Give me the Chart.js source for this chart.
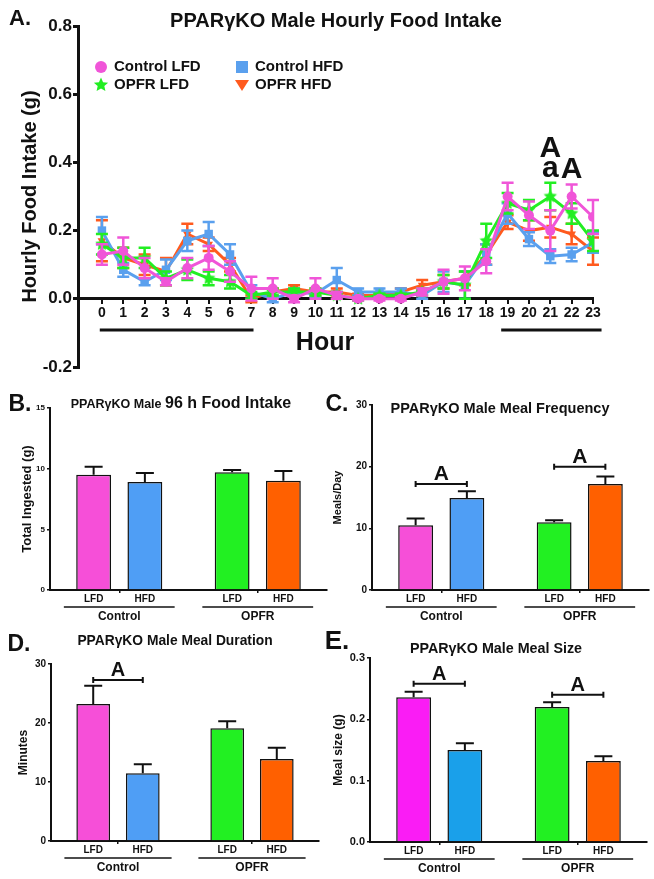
<!DOCTYPE html>
<html>
<head>
<meta charset="utf-8">
<script src="https://cdn.jsdelivr.net/npm/chart.js@4.4.1/dist/chart.umd.min.js"></script>
<style>
  body { margin: 0; background: #fff; width: 654px; height: 879px; overflow: hidden; position: relative;
         font-family: 'Liberation Sans', Arial, sans-serif; font-weight: bold; color: #111; }
  canvas { position: absolute; }
  .t { position: absolute; white-space: nowrap; line-height: 1; transform: translate(-50%, -50%); }
</style>
</head>
<body>
<canvas id="cA" style="left:0px;top:0px" width="654" height="380"></canvas>
<canvas id="cB" style="left:0px;top:380px" width="330" height="245"></canvas>
<canvas id="cC" style="left:325px;top:380px" width="329" height="245"></canvas>
<canvas id="cD" style="left:0px;top:620px" width="330" height="259"></canvas>
<canvas id="cE" style="left:325px;top:620px" width="329" height="259"></canvas>

<div class="t" style="left:20px;top:18px;font-size:22px">A.</div>
<div class="t" style="left:336px;top:20px;font-size:20px">PPARγKO Male Hourly Food Intake</div>
<div class="t" style="left:325px;top:341px;font-size:25px">Hour</div>

<div class="t" style="left:20px;top:403px;font-size:23px">B.</div>
<div class="t" style="left:181px;top:403px;font-size:12.5px">PPARγKO Male <span style="font-size:16px">96 h Food Intake</span></div>
<div class="t" style="left:337px;top:403px;font-size:23px">C.</div>
<div class="t" style="left:500px;top:408px;font-size:14.5px">PPARγKO Male Meal Frequency</div>
<div class="t" style="left:19px;top:643px;font-size:23px">D.</div>
<div class="t" style="left:175px;top:641px;font-size:13.8px">PPARγKO Male Meal Duration</div>
<div class="t" style="left:337px;top:640px;font-size:26px">E.</div>
<div class="t" style="left:496px;top:648px;font-size:14.3px">PPARγKO Male Meal Size</div>

<script>
// ---- panel A: hourly intake ----
const hours = [0,1,2,3,4,5,6,7,8,9,10,11,12,13,14,15,16,17,18,19,20,21,22,23];
const ctrlLFD    = [0.13,0.14,0.09,0.05,0.09,0.12,0.08,0.03,0.03,0.00,0.03,0.01,0.00,0.00,0.00,0.02,0.05,0.06,0.11,0.30,0.245,0.20,0.30,0.24];
const ctrlLFDerr = [0.03,0.04,0.03,0.01,0.03,0.035,0.03,0.035,0.03,0.01,0.03,0.01,0.005,0.005,0.005,0.01,0.035,0.035,0.035,0.04,0.04,0.06,0.035,0.05];
const ctrlHFD    = [0.20,0.085,0.05,0.085,0.17,0.19,0.13,0.02,0.00,0.02,0.015,0.055,0.02,0.02,0.02,0.01,0.05,0.04,0.13,0.25,0.175,0.125,0.13,0.165];
const ctrlHFDerr = [0.04,0.02,0.01,0.03,0.03,0.035,0.03,0.02,0.01,0.01,0.01,0.035,0.01,0.01,0.01,0.01,0.03,0.04,0.03,0.03,0.02,0.02,0.02,0.03];
const opfrLFD    = [0.16,0.12,0.12,0.06,0.085,0.06,0.05,0.01,0.02,0.02,0.02,0.01,0.00,0.01,0.01,0.02,0.05,0.04,0.17,0.28,0.26,0.30,0.25,0.17];
const opfrLFDerr = [0.03,0.03,0.03,0.02,0.03,0.02,0.02,0.01,0.01,0.01,0.01,0.01,0.005,0.005,0.005,0.01,0.02,0.04,0.05,0.03,0.03,0.04,0.03,0.03];
const opfrHFD    = [0.17,0.12,0.10,0.08,0.19,0.16,0.10,0.00,0.02,0.03,0.02,0.02,0.01,0.01,0.02,0.04,0.05,0.06,0.13,0.225,0.20,0.21,0.19,0.14];
const opfrHFDerr = [0.06,0.03,0.03,0.04,0.03,0.02,0.02,0.01,0.01,0.01,0.01,0.01,0.005,0.005,0.01,0.015,0.02,0.02,0.03,0.02,0.03,0.03,0.03,0.04];
const darkPhases = [[-0.1, 7.1], [18.7, 23.4]];
const sigHourly = [{hour: 21, y: 0.415, text: 'A'}, {hour: 21, y: 0.356, text: 'a'}, {hour: 22, y: 0.353, text: 'A'}];

// ---- panels B-E: group means ----
const groups = ['Control', 'OPFR'];
const intakeLFD = [9.5, 9.7],     intakeLFDerr = [0.65, 0.2];
const intakeHFD = [8.9, 9.0],     intakeHFDerr = [0.75, 0.8];
const freqLFD = [10.5, 11.0],     freqLFDerr = [1.1, 0.3];
const freqHFD = [14.9, 17.2],     freqHFDerr = [1.1, 1.2];
const durLFD = [23.2, 19.1],      durLFDerr = [3.1, 1.2];
const durHFD = [11.5, 13.9],      durHFDerr = [1.5, 1.9];
const sizeLFD = [0.236, 0.22],    sizeLFDerr = [0.009, 0.008];
const sizeHFD = [0.15, 0.132],    sizeHFDerr = [0.011, 0.008];
const freqSig = [17.2, 20];
const durSig = [27.3, null];
const sizeSig = [0.258, 0.24];

const FONT = "'Liberation Sans', Arial, sans-serif";
const INK = '#111';

function starCanvas(color, r) {
  const c = document.createElement('canvas');
  c.width = c.height = r * 2 + 2;
  const g = c.getContext('2d');
  g.fillStyle = color;
  g.beginPath();
  for (let k = 0; k < 10; k++) {
    const a = -Math.PI / 2 + k * Math.PI / 5;
    const rr = k % 2 ? r * 0.5 : r;
    g.lineTo(r + 1 + rr * Math.cos(a), r + 1 + rr * Math.sin(a));
  }
  g.closePath();
  g.fill();
  return c;
}

function drawMarker(ctx, kind, x, y, color) {
  ctx.fillStyle = color;
  ctx.beginPath();
  if (kind === 'circle') ctx.arc(x, y, 6, 0, Math.PI * 2);
  else if (kind === 'rect') ctx.rect(x - 6, y - 6, 12, 12);
  else if (kind === 'tri') { ctx.moveTo(x - 7, y - 5); ctx.lineTo(x + 7, y - 5); ctx.lineTo(x, y + 6); }
  else {
    for (let k = 0; k < 10; k++) {
      const a = -Math.PI / 2 + k * Math.PI / 5, rr = k % 2 ? 3.5 : 7.5;
      ctx.lineTo(x + rr * Math.cos(a), y + rr * Math.sin(a));
    }
  }
  ctx.closePath();
  ctx.fill();
}

const colA = {cl: '#f055d8', ch: '#5aa0ee', ol: '#22ee22', oh: '#ff5a1e'};

function lineSet(label, data, err, color, style, rot, order, legendKind) {
  return {
    label, data, err, order, legendKind,
    borderColor: color, backgroundColor: color,
    borderWidth: 3, pointStyle: style, pointRotation: rot,
    pointRadius: style === 'rect' ? 6 : 5, pointBorderWidth: 0,
    tension: 0
  };
}

const errorBarsA = {
  id: 'errorBarsA',
  beforeDatasetDraw(chart, args) {
    const ds = chart.data.datasets[args.index];
    const ys = chart.scales.y, ctx = chart.ctx;
    ctx.save();
    ctx.strokeStyle = ds.borderColor;
    ctx.lineWidth = 2.5;
    args.meta.data.forEach((pt, j) => {
      const t = ys.getPixelForValue(ds.data[j] + ds.err[j]);
      const b = ys.getPixelForValue(ds.data[j] - ds.err[j]);
      ctx.beginPath();
      ctx.moveTo(pt.x, t); ctx.lineTo(pt.x, b);
      ctx.moveTo(pt.x - 6, t); ctx.lineTo(pt.x + 6, t);
      ctx.moveTo(pt.x - 6, b); ctx.lineTo(pt.x + 6, b);
      ctx.stroke();
    });
    ctx.restore();
  }
};

const extrasA = {
  id: 'extrasA',
  afterDraw(chart) {
    const ctx = chart.ctx, xs = chart.scales.x, ys = chart.scales.y;
    ctx.save();
    // light/dark bars under the hour axis
    ctx.strokeStyle = INK;
    ctx.lineWidth = 3;
    darkPhases.forEach(([a, b]) => {
      ctx.beginPath();
      ctx.moveTo(xs.getPixelForValue(a), 330);
      ctx.lineTo(xs.getPixelForValue(b), 330);
      ctx.stroke();
    });
    // significance letters
    ctx.fillStyle = INK;
    ctx.font = 'bold 30px ' + FONT;
    ctx.textAlign = 'center';
    ctx.textBaseline = 'alphabetic';
    sigHourly.forEach(s => ctx.fillText(s.text, xs.getPixelForValue(s.hour), ys.getPixelForValue(s.y)));
    // legend, two columns in label order
    ctx.font = 'bold 15px ' + FONT;
    ctx.textAlign = 'left';
    ctx.textBaseline = 'middle';
    chart.data.datasets.forEach((ds, i) => {
      const col = i % 2, row = Math.floor(i / 2);
      const mx = 101 + col * 141, my = 67 + row * 18;
      drawMarker(ctx, ds.legendKind, mx, my, ds.borderColor);
      ctx.fillStyle = INK;
      ctx.fillText(ds.label, mx + 13, my);
    });
    ctx.restore();
  }
};

new Chart(document.getElementById('cA'), {
  type: 'line',
  data: {
    labels: hours,
    datasets: [
      lineSet('Control LFD', ctrlLFD, ctrlLFDerr, colA.cl, 'circle', 0, 0, 'circle'),
      lineSet('Control HFD', ctrlHFD, ctrlHFDerr, colA.ch, 'rect', 0, 2, 'rect'),
      lineSet('OPFR LFD', opfrLFD, opfrLFDerr, colA.ol, starCanvas(colA.ol, 7), 0, 1, 'star'),
      lineSet('OPFR HFD', opfrHFD, opfrHFDerr, colA.oh, 'triangle', 180, 3, 'tri')
    ]
  },
  options: {
    responsive: false,
    animation: false,
    layout: {padding: {left: 0, top: 26, right: 61, bottom: 13}},
    plugins: {legend: {display: false}, tooltip: {enabled: false}},
    scales: {
      x: {
        type: 'linear', min: -1.12, max: 23, position: {y: 0},
        afterBuildTicks: s => { s.ticks = s.ticks.filter(t => t.value >= 0); },
        ticks: {stepSize: 1, autoSkip: false, maxRotation: 0, padding: 2, color: INK,
                font: {family: FONT, size: 14, weight: 'bold'}},
        grid: {drawOnChartArea: false, tickLength: 4, color: INK, lineWidth: 2},
        border: {color: INK, width: 3}
      },
      y: {
        min: -0.2, max: 0.8,
        ticks: {stepSize: 0.2, padding: 1, color: INK, font: {family: FONT, size: 17, weight: 'bold'},
                callback: v => Math.abs(v) < 1e-9 ? '0.0' : v.toFixed(1)},
        grid: {drawOnChartArea: false, tickLength: 5, color: INK, lineWidth: 3},
        border: {color: INK, width: 3},
        title: {display: true, text: 'Hourly Food Intake (g)', color: INK,
                font: {family: FONT, size: 20, weight: 'bold'}, padding: {top: 18, bottom: 0}},
        afterFit: s => { s.width = 78; }
      }
    }
  },
  plugins: [errorBarsA, extrasA]
});

// ---- bar panels ----
const barExtras = {
  id: 'barExtras',
  afterDatasetsDraw(chart, args, opts) {
    const ctx = chart.ctx, xs = chart.scales.x, ys = chart.scales.y;
    const axisY = ys.getPixelForValue(0);
    ctx.save();
    ctx.strokeStyle = INK;
    ctx.fillStyle = INK;
    chart.data.datasets.forEach((ds, i) => {
      chart.getDatasetMeta(i).data.forEach((bar, j) => {
        const top = ys.getPixelForValue(ds.data[j] + ds.err[j]);
        ctx.lineWidth = 2;
        ctx.beginPath();
        ctx.moveTo(bar.x, bar.y); ctx.lineTo(bar.x, top);
        ctx.moveTo(bar.x - opts.cap, top); ctx.lineTo(bar.x + opts.cap, top);
        ctx.stroke();
        ctx.font = 'bold 10px ' + FONT;
        ctx.textAlign = 'center';
        ctx.textBaseline = 'middle';
        ctx.fillText(ds.label, bar.x, axisY + 9);
      });
    });
    const half = (xs.getPixelForValue(1) - xs.getPixelForValue(0)) / 2;
    chart.data.labels.forEach((l, k) => {
      const cx = xs.getPixelForValue(k);
      ctx.lineWidth = 1.5;
      ctx.beginPath();
      ctx.moveTo(cx - half * 0.8, axisY + 17); ctx.lineTo(cx + half * 0.8, axisY + 17);
      ctx.stroke();
    });
    (opts.sig || []).forEach((v, k) => {
      if (v == null) return;
      const a = chart.getDatasetMeta(0).data[k].x, b = chart.getDatasetMeta(1).data[k].x;
      const y = ys.getPixelForValue(v);
      ctx.lineWidth = 2;
      ctx.beginPath();
      ctx.moveTo(a, y); ctx.lineTo(b, y);
      ctx.moveTo(a, y - 3); ctx.lineTo(a, y + 3);
      ctx.moveTo(b, y - 3); ctx.lineTo(b, y + 3);
      ctx.stroke();
      ctx.font = 'bold ' + opts.letterSize + 'px ' + FONT;
      ctx.textAlign = 'center';
      ctx.textBaseline = 'alphabetic';
      ctx.fillText('A', (a + b) / 2, y - 4);
    });
    ctx.restore();
  }
};

function barPanel(id, o) {
  const bold = size => ({family: FONT, size, weight: 'bold'});
  new Chart(document.getElementById(id), {
    type: 'bar',
    data: {
      labels: groups,
      datasets: [
        {label: 'LFD', data: o.lfd, err: o.lfdErr, backgroundColor: [o.colors[0], o.colors[2]],
         borderColor: INK, borderWidth: 1.5, borderSkipped: 'bottom', categoryPercentage: 0.74, barPercentage: 0.68},
        {label: 'HFD', data: o.hfd, err: o.hfdErr, backgroundColor: [o.colors[1], o.colors[3]],
         borderColor: INK, borderWidth: 1.5, borderSkipped: 'bottom', categoryPercentage: 0.74, barPercentage: 0.68}
      ]
    },
    options: {
      responsive: false,
      animation: false,
      layout: {padding: o.pad},
      plugins: {legend: {display: false}, tooltip: {enabled: false},
                barExtras: {sig: o.sig, cap: 9, letterSize: o.letterSize || 21}},
      scales: {
        x: {
          ticks: {color: INK, font: bold(12), padding: o.xpad},
          grid: {display: true, drawOnChartArea: false, offset: false, tickLength: 3, color: INK, lineWidth: 1.5},
          border: {color: INK, width: 2},
          afterFit: s => { s.height = o.xh; }
        },
        y: {
          min: 0, max: o.max,
          ticks: {stepSize: o.step, color: INK, font: bold(o.tickSize), padding: 2, callback: o.fmt},
          grid: {drawOnChartArea: false, tickLength: 3, color: INK, lineWidth: 1.5},
          border: {color: INK, width: 2},
          title: {display: true, text: o.ytitle, color: INK, font: bold(o.titleSize), padding: {top: o.tpad, bottom: 0}},
          afterFit: s => { s.width = o.yw; }
        }
      }
    },
    plugins: [barExtras]
  });
}

const barColors = ['#f64fd8', '#4f9ef5', '#22f022', '#ff6000'];

barPanel('cB', {lfd: intakeLFD, lfdErr: intakeLFDerr, hfd: intakeHFD, hfdErr: intakeHFDerr,
  colors: barColors, max: 15, step: 5, tickSize: 8, ytitle: 'Total Ingested (g)', titleSize: 13, tpad: 20,
  yw: 50, xh: 35, xpad: 16, pad: {left: 0, top: 28, right: 3, bottom: 0}, sig: [], fmt: v => v});

barPanel('cC', {lfd: freqLFD, lfdErr: freqLFDerr, hfd: freqHFD, hfdErr: freqHFDerr,
  colors: barColors, max: 30, step: 10, tickSize: 10, ytitle: 'Meals/Day', titleSize: 11, tpad: 6,
  yw: 47, xh: 35, xpad: 16, pad: {left: 0, top: 25, right: 5, bottom: 0}, sig: freqSig, fmt: v => v});

barPanel('cD', {lfd: durLFD, lfdErr: durLFDerr, hfd: durHFD, hfdErr: durHFDerr,
  colors: barColors, max: 30, step: 10, tickSize: 10, ytitle: 'Minutes', titleSize: 12, tpad: 16,
  yw: 51, xh: 38, xpad: 16, pad: {left: 0, top: 44, right: 11, bottom: 0}, sig: durSig, letterSize: 20, fmt: v => v});

barPanel('cE', {lfd: sizeLFD, lfdErr: sizeLFDerr, hfd: sizeHFD, hfdErr: sizeHFDerr,
  colors: ['#fa1cf5', '#1aa0ea', '#22f022', '#ff6000'], max: 0.3, step: 0.1, tickSize: 11,
  ytitle: 'Meal size (g)', titleSize: 12, tpad: 6,
  yw: 45, xh: 37, xpad: 16, pad: {left: 0, top: 38, right: 7, bottom: 0}, sig: sizeSig, letterSize: 20,
  fmt: v => v.toFixed(1)});
</script>
</body>
</html>
